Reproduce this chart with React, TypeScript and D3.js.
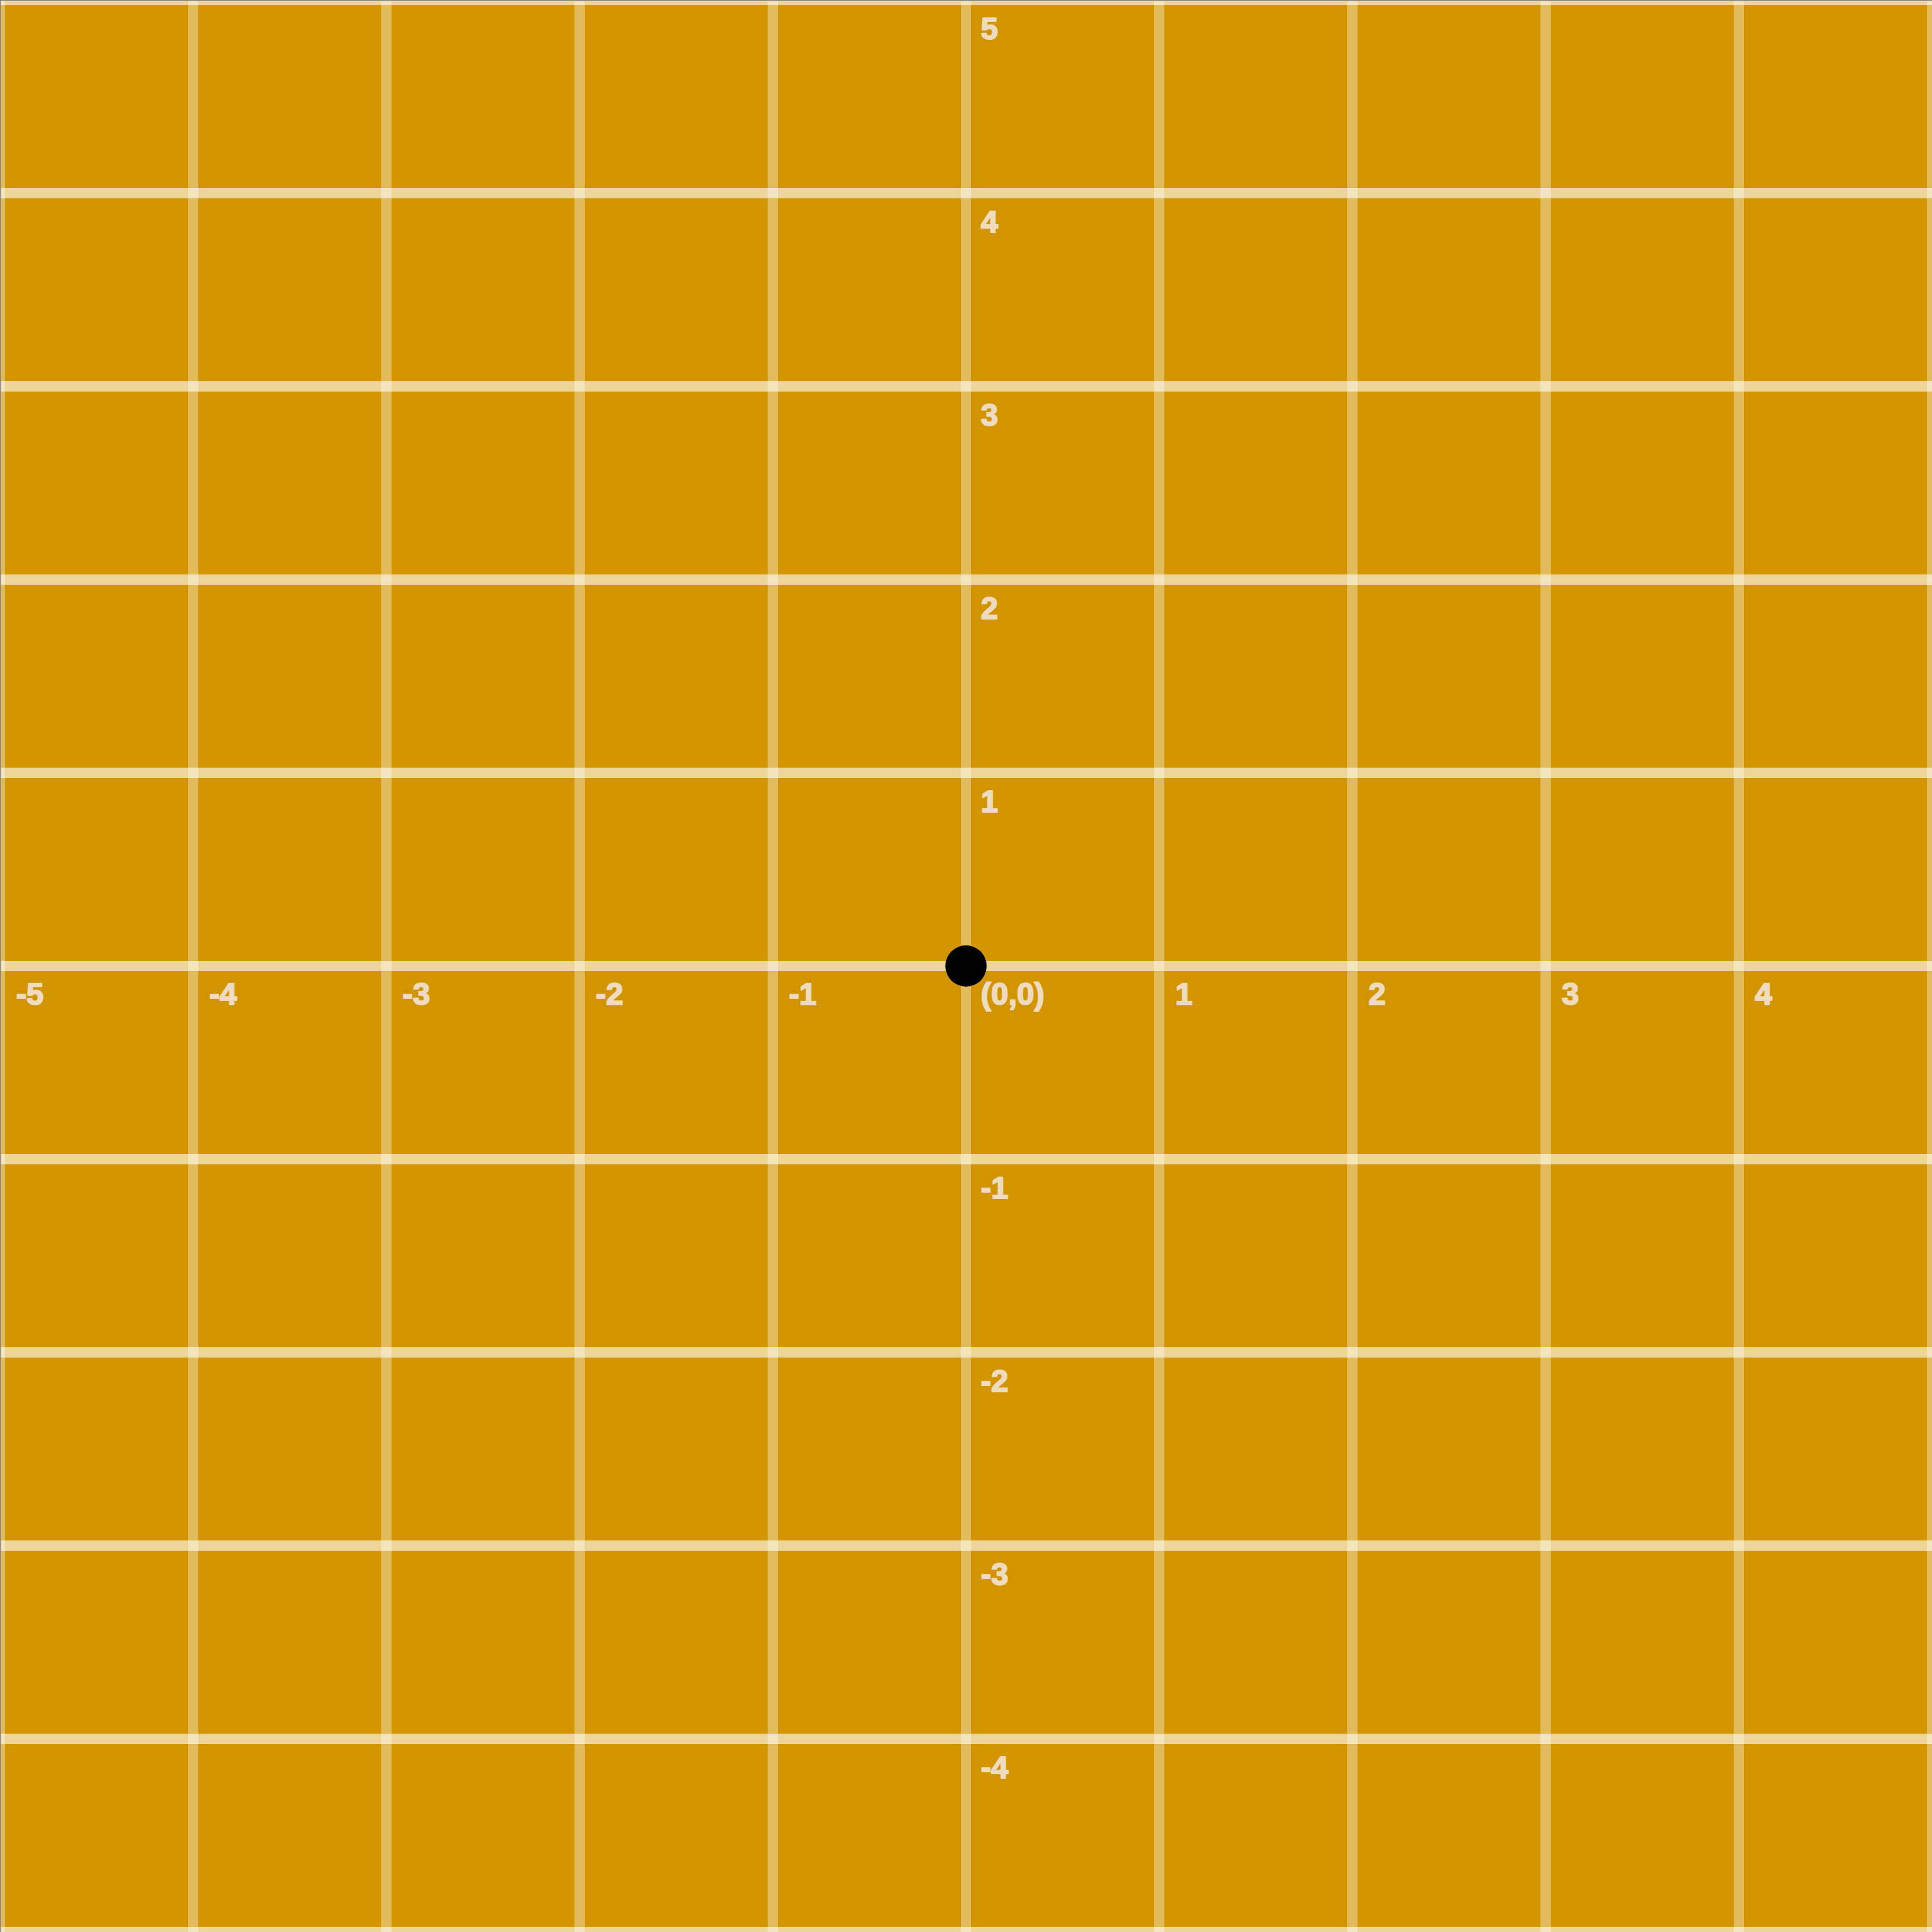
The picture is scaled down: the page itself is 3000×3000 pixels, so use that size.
import React, { useEffect, useRef } from 'react';
import * as d3 from 'd3';

// grid ticks along each axis
const xTicks = [-5, -4, -3, -2, -1, 0, 1, 2, 3, 4, 5];
const yTicks = [-5, -4, -3, -2, -1, 0, 1, 2, 3, 4, 5];
// labels drawn next to the axes
const xLabels = ['-5', '-4', '-3', '-2', '-1', '1', '2', '3', '4'];
const yLabels = ['5', '4', '3', '2', '1', '-1', '-2', '-3', '-4'];
const origin = { x: 0, y: 0, label: '(0,0)' };

const W = 3000;
const H = 3000;

const App: React.FC = () => {
  const svgRef = useRef<SVGSVGElement>(null);

  useEffect(() => {
    if (!svgRef.current) return;
    const svg = d3.select(svgRef.current);
    svg.selectAll('*').remove();

    const x = d3.scaleLinear().domain([-5, 5]).range([0, W]);
    const y = d3.scaleLinear().domain([-5, 5]).range([H, 0]);

    // background
    svg.append('rect')
      .attr('width', W)
      .attr('height', H)
      .attr('fill', '#D29500');

    // vertical grid lines
    svg.append('g')
      .selectAll('line')
      .data(xTicks)
      .enter()
      .append('line')
      .attr('x1', d => x(d))
      .attr('x2', d => x(d))
      .attr('y1', 0)
      .attr('y2', H)
      .attr('stroke', '#ffffff')
      .attr('stroke-opacity', 0.36)
      .attr('stroke-width', 16);

    // horizontal grid lines
    svg.append('g')
      .selectAll('line')
      .data(yTicks)
      .enter()
      .append('line')
      .attr('x1', 0)
      .attr('x2', W)
      .attr('y1', d => y(d))
      .attr('y2', d => y(d))
      .attr('stroke', '#ffffff')
      .attr('stroke-opacity', 0.6)
      .attr('stroke-width', 16);

    // heavy cream labels (stroke thickens the bold face a bit)
    const labelStyle = (sel: any) => sel
      .attr('font-family', '"Liberation Sans", Arial, sans-serif')
      .attr('font-weight', 'bold')
      .attr('font-size', 48)
      .attr('fill', '#EEDBC0')
      .attr('stroke', '#EEDBC0')
      .attr('stroke-width', 2)
      .attr('stroke-linejoin', 'round');

    // x axis labels
    svg.append('g')
      .selectAll('text')
      .data(xLabels)
      .enter()
      .append('text')
      .attr('x', d => x(+d) + 25)
      .attr('y', y(0) + 60)
      .text(d => d)
      .call(labelStyle);

    // y axis labels
    svg.append('g')
      .selectAll('text')
      .data(yLabels)
      .enter()
      .append('text')
      .attr('x', x(0) + 23)
      .attr('y', d => y(+d) + 61)
      .text(d => d)
      .call(labelStyle);

    // origin
    svg.append('circle')
      .attr('cx', x(origin.x))
      .attr('cy', y(origin.y))
      .attr('r', 32)
      .attr('fill', '#000000');

    svg.append('text')
      .attr('x', x(origin.x) + 23)
      .attr('y', y(origin.y) + 60)
      .text(origin.label)
      .call(labelStyle);

    // thin edge on top and left
    svg.append('rect').attr('x', 0).attr('y', 0).attr('width', 1).attr('height', H).attr('fill', '#7a7a7a');
    svg.append('rect').attr('x', 0).attr('y', 0).attr('width', W).attr('height', 1).attr('fill', '#7a7a7a');
  }, []);

  return (
    <svg
      ref={svgRef}
      width={W}
      height={H}
      style={{ position: 'absolute', left: 0, top: 0, display: 'block' }}
    />
  );
};

export default App;
